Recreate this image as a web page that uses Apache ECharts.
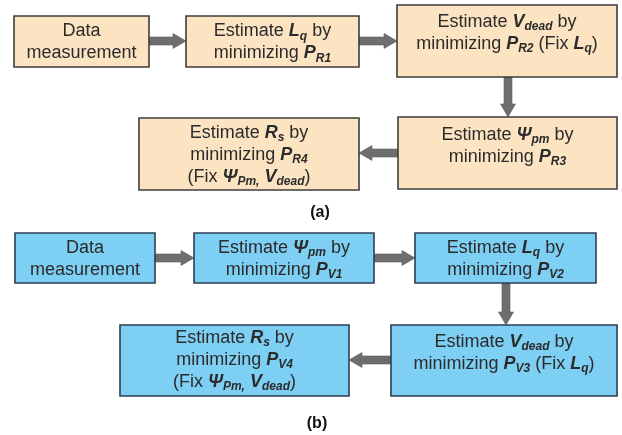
<!DOCTYPE html>
<html><head><meta charset="utf-8">
<script src="https://cdn.jsdelivr.net/npm/echarts@6/dist/echarts.min.js"></script>
<style>html,body{margin:0;padding:0;background:#fff}#c{width:622px;height:435px}</style>
</head><body><div id="c"></div>
<script>
// ---- content ----
const panelTitles = ['(a)', '(b)'];
const stepsA = [
  ['Data', 'measurement'],
  ['Estimate {b|L}{s|q} by', 'minimizing {b|P}{s|R1}'],
  ['Estimate {b|V}{s|dead} by', 'minimizing {b|P}{s|R2} (Fix {b|L}{s|q})'],
  ['Estimate {b|Ψ}{s|pm} by', 'minimizing {b|P}{s|R3}'],
  ['Estimate {b|R}{s|s} by', 'minimizing {b|P}{s|R4}', '(Fix {b|Ψ}{s|Pm,} {b|V}{s|dead})']
];
const stepsB = [
  ['Data', 'measurement'],
  ['Estimate {b|Ψ}{s|pm} by', 'minimizing {b|P}{s|V1}'],
  ['Estimate {b|L}{s|q} by', 'minimizing {b|P}{s|V2}'],
  ['Estimate {b|V}{s|dead} by', 'minimizing {b|P}{s|V3} (Fix {b|L}{s|q})'],
  ['Estimate {b|R}{s|s} by', 'minimizing {b|P}{s|V4}', '(Fix {b|Ψ}{s|Pm,} {b|V}{s|dead})']
];
// flow order: step i -> step i+1
const flowA = [[0,1],[1,2],[2,3],[3,4]];
const flowB = [[0,1],[1,2],[2,3],[3,4]];

// ---- layout (canvas units) ----
const boxesA = [[14,16,149,67,42.5],[186,16,359,67,42.5],[397,5,617,77,33],[398,117,617,189,146],[139,118,359,190,155]];
const boxesB = [[15,233,155,283,259],[194,233,374,283,259],[415,233,596,283,259],[391,325,617,396,353],[120,325,349,396,360]];
const arrowsA = [[149,41,186,41],[359,41,397,41],[508,77,508,117],[398,153,359,153]];
const arrowsB = [[155,258,194,258],[374,258,415,258],[506,283,506,325],[391,360,349,360]];
const titlePos = [[320,213],[317,424]];

const FONT = '"Liberation Sans", Arial, sans-serif';
const rich = {
  b: {fontFamily: FONT, fontSize: 18, fontWeight: 'bold', fontStyle: 'italic', lineHeight: 22, fill: '#2b2b2b'},
  s: {fontFamily: FONT, fontSize: 12, fontWeight: 'bold', fontStyle: 'italic', lineHeight: 14, verticalAlign: 'bottom', fill: '#2b2b2b'}
};

function boxSeries(boxes, steps, fill, stroke) {
  return {
    type: 'custom', coordinateSystem: 'cartesian2d', silent: true,
    data: boxes,
    renderItem(params, api) {
      const i = params.dataIndex;
      const p0 = api.coord([api.value(0), api.value(1)]);
      const p1 = api.coord([api.value(2), api.value(3)]);
      const ty = api.coord([0, api.value(4)])[1];
      return {type: 'group', children: [
        {type: 'rect', shape: {x: p0[0], y: p0[1], width: p1[0]-p0[0], height: p1[1]-p0[1]},
         style: {fill: fill, stroke: stroke, lineWidth: 1.6}},
        {type: 'text', x: (p0[0]+p1[0])/2, y: ty,
         style: {text: steps[i].join('\n'), fontFamily: FONT, fontSize: 18, lineHeight: 22,
                 fill: '#2b2b2b', align: 'center', verticalAlign: 'middle', rich: rich}}
      ]};
    }
  };
}

function arrowSeries(arrows) {
  return {
    type: 'custom', coordinateSystem: 'cartesian2d', silent: true,
    data: arrows,
    renderItem(params, api) {
      const a = api.coord([api.value(0), api.value(1)]);
      const b = api.coord([api.value(2), api.value(3)]);
      const dx = b[0]-a[0], dy = b[1]-a[1], L = Math.hypot(dx, dy);
      const ux = dx/L, uy = dy/L, nx = -uy, ny = ux;
      const sw = 4, hw = 7.5, hl = 13;
      const h = [b[0]-ux*hl, b[1]-uy*hl];
      const pts = [
        [a[0]+nx*sw, a[1]+ny*sw], [h[0]+nx*sw, h[1]+ny*sw], [h[0]+nx*hw, h[1]+ny*hw], b,
        [h[0]-nx*hw, h[1]-ny*hw], [h[0]-nx*sw, h[1]-ny*sw], [a[0]-nx*sw, a[1]-ny*sw]
      ];
      return {type: 'polygon', shape: {points: pts}, style: {fill: '#6e6e6e', stroke: '#5a5a5a', lineWidth: 0.6}};
    }
  };
}

const titleSeries = {
  type: 'custom', coordinateSystem: 'cartesian2d', silent: true,
  data: titlePos,
  renderItem(params, api) {
    const p = api.coord([api.value(0), api.value(1)]);
    return {type: 'text', x: p[0], y: p[1],
      style: {text: panelTitles[params.dataIndex], fontFamily: FONT, fontSize: 16, fontWeight: 'bold',
              fill: '#111', align: 'center', verticalAlign: 'middle'}};
  }
};

const chart = echarts.init(document.getElementById('c'), null, {renderer: 'canvas'});
chart.setOption({
  animation: false,
  grid: {left: 0, right: 0, top: 0, bottom: 0},
  xAxis: {type: 'value', min: 0, max: 622, show: false},
  yAxis: {type: 'value', min: 0, max: 435, inverse: true, show: false},
  series: [
    arrowSeries(arrowsA), arrowSeries(arrowsB),
    boxSeries(boxesA, stepsA, '#fce4c3', '#3c3c3c'),
    boxSeries(boxesB, stepsB, '#7ecff4', '#2c3e50'),
    titleSeries
  ]
});
</script></body></html>
